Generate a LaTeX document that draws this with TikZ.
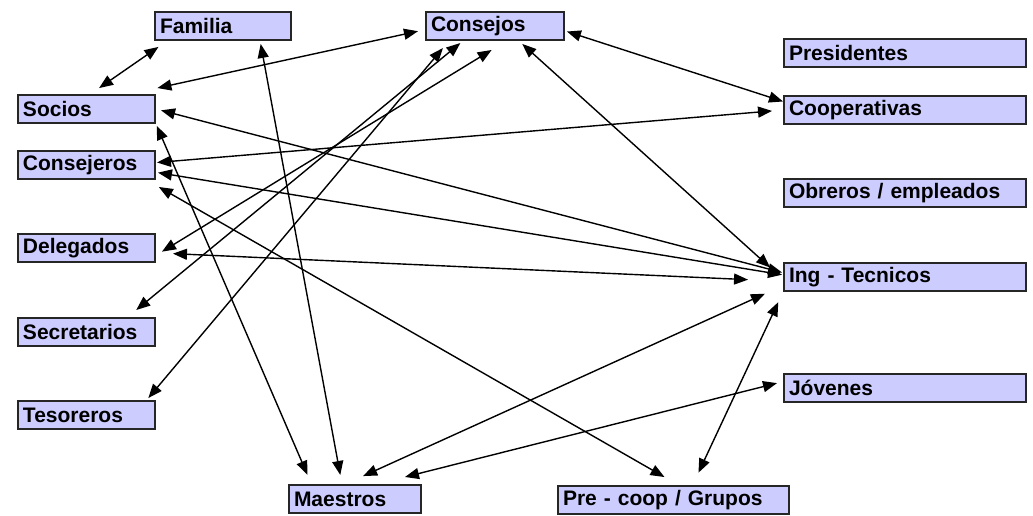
\documentclass[tikz,border=0pt]{standalone}
\usepackage{fontspec}
\setmainfont{Liberation Sans}
\usepackage{tikz}
\usetikzlibrary{arrows.meta,positioning}
\definecolor{lavbox}{RGB}{204,204,255}
\tikzset{
  actor/.style={rectangle,draw=black!85,line width=1pt,fill=lavbox,anchor=north west,
    minimum height=14pt,inner xsep=2.5pt,inner ysep=0pt,text width=#1,align=left,
    font=\bfseries\fontsize{10.5}{12}\selectfont},
  actor/.default=63.5pt,
  links/.style={
    every edge/.style={draw,line width=0.7pt,<->}
  },
  network/.style={x=0.5pt,y=-0.5pt,>={Triangle[length=7pt,width=5.5pt]}}
}

\begin{document}
\begin{tikzpicture}[network]
      \useasboundingbox (0,0) rectangle (1033,515);

      \node[actor=63pt] (familia) at (154,11) {Familia};
      \node[actor=64pt] (consejos) at (425,11) {Consejos};
      \node[actor] (socios) at (17,94) {Socios};
      \node[actor] (consejeros) at (17,150) {Consejeros};
      \node[actor] (delegados) at (17,233) {Delegados};
      \node[actor] (secretarios) at (17,317) {Secretarios};
      \node[actor] (tesoreros) at (17,400) {Tesoreros};
      \node[actor=116pt] (presidentes) at (783,38) {Presidentes};
      \node[actor=116pt] (cooperativas) at (783,95) {Cooperativas};
      \node[actor=116pt] (obreros) at (783,178) {Obreros / empleados};
      \node[actor=116pt] (ing) at (783,262) {Ing - Tecnicos};
      \node[actor=116pt] (jovenes) at (783,373) {Jóvenes};
      \node[actor=61pt] (maestros) at (288,484) {Maestros};
      \node[actor=110.5pt] (precoop) at (557,485) {Pre - coop / Grupos};

      \path[links]
      (familia.195) edge[shorten <=5.2pt,shorten >=5.2pt] (socios.75)
      (consejos.183) edge[shorten <=3.6pt,shorten >=14pt] (socios.19)
      (consejos.356) edge[shorten <=1pt] (cooperativas.176)
      (consejos.328) edge[shorten <=2.2pt,shorten >=8.7pt] (ing.181)
      (consejos.307) edge[shorten <=8.6pt,shorten >=3.5pt] (delegados.354)
      (consejos.205) edge[shorten <=1.6pt,shorten >=5.5pt] (secretarios.20)
      (consejos.198) edge[shorten <=4.6pt,shorten >=1.3pt] (tesoreros.14)
      (cooperativas.180) edge[shorten <=5.5pt,shorten >=0.5pt] (consejeros.2)
      (socios.0) edge[shorten <=2.6pt,shorten >=0.5pt] (ing.178)
      (consejeros.354) edge[shorten <=1pt,shorten >=0.5pt] (ing.179)
      (delegados.356) edge[shorten <=8.5pt,shorten >=17.5pt] (ing.182)
      (consejeros.346) edge[shorten <=7pt,shorten >=8pt] (precoop.72)
      (socios.south east) edge[shorten <=1pt,shorten >=5pt] (maestros.161)
      (familia.338) edge[shorten <=1.5pt,shorten >=4.6pt] (maestros.131)
      (maestros.122) edge[shorten <=9.6pt,shorten >=9.9pt] (ing.184)
      (maestros.34) edge[shorten <=14.3pt,shorten >=3.1pt] (jovenes.177)
      (precoop.38) edge[shorten <=6.8pt,shorten >=5.6pt] (ing.187)
      ;
\end{tikzpicture}
\end{document}
